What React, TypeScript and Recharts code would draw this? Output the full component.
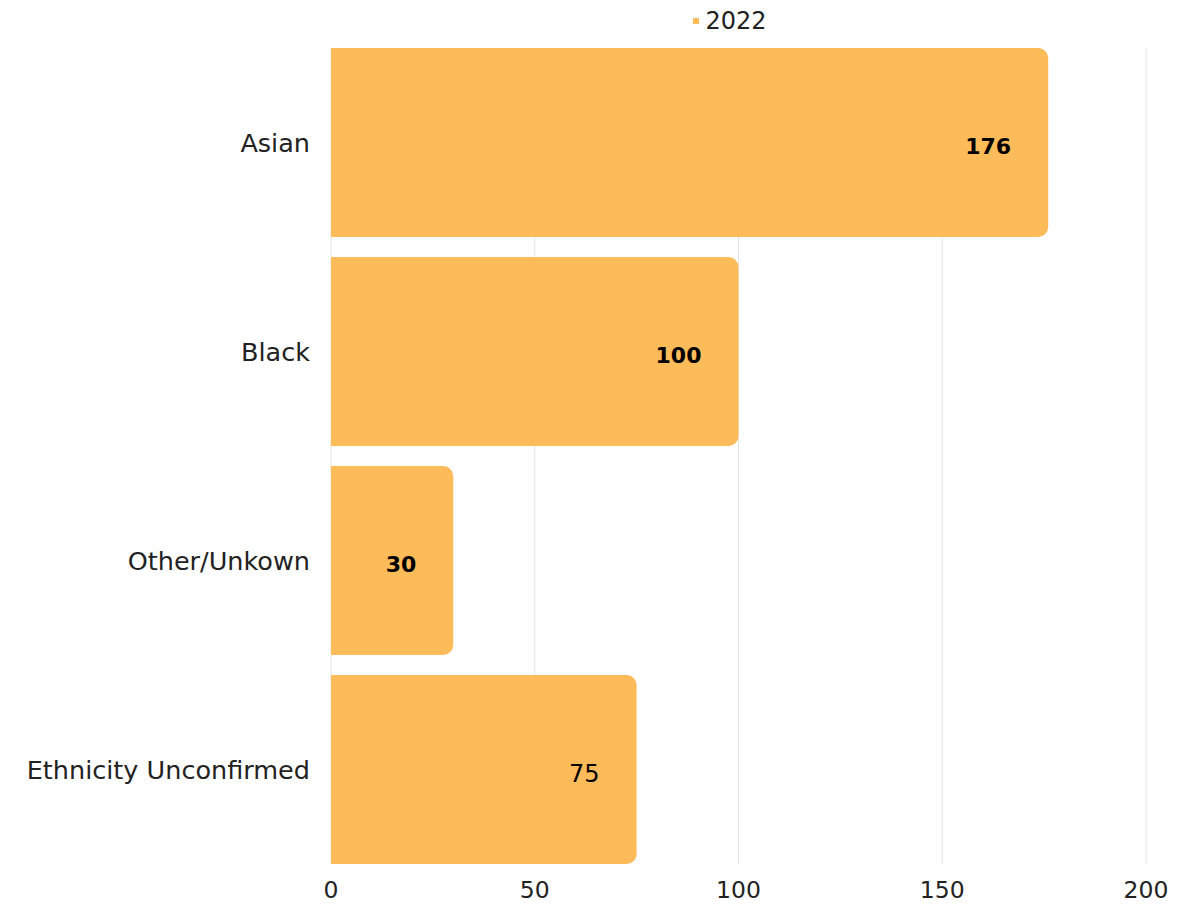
import React from "react";
import { BarChart, Bar, XAxis, YAxis, CartesianGrid, Legend, LabelList } from "recharts";

const categories = ["Asian", "Black", "Other/Unkown", "Ethnicity Unconfirmed"];
const values2022 = [176, 100, 30, 75];
const boldLabels = [true, true, true, false];
const xTicks = [0, 50, 100, 150, 200];

const data = categories.map((c, i) => ({ name: c, v2022: values2022[i] }));

const FONT = "'DejaVu Sans', sans-serif";
const BAR_COLOR = "#FEBB5A";

const renderLabel = (props: any) => {
  const { x, y, width, height, value, index } = props;
  const bold = boldLabels[index];
  return (
    <text
      x={x + width - 37}
      y={y + height / 2 + 4}
      textAnchor="end"
      dominantBaseline="central"
      fontFamily={FONT}
      fontSize={bold ? 22 : 24}
      fontWeight={bold ? 700 : 400}
      fill="#000"
    >
      {value}
    </text>
  );
};

const renderLegend = () => (
  <div style={{ display: "flex", alignItems: "center", justifyContent: "center", fontFamily: FONT, fontSize: 24, color: "#222", lineHeight: "30px" }}>
    <span style={{ display: "inline-block", width: 6, height: 6, background: BAR_COLOR, marginRight: 6 }} />
    <span>2022</span>
  </div>
);

export default function App() {
  return (
    <div style={{ position: "absolute", left: 0, top: 0, background: "#fff" }}>
      <BarChart
        width={1187}
        height={905}
        data={data}
        layout="vertical"
        margin={{ top: 48, right: 41, bottom: 0, left: 0 }}
        barCategoryGap={10}
      >
        <CartesianGrid horizontal={false} vertical={true} stroke="#e4e4e4" />
        <XAxis
          type="number"
          domain={[0, 200]}
          ticks={xTicks}
          tickLine={false}
          axisLine={false}
          height={41}
          tickMargin={11}
          tick={{ fontFamily: FONT, fontSize: 23.5, fill: "#222" }}
        />
        <YAxis
          type="category"
          dataKey="name"
          width={331}
          tickLine={false}
          axisLine={false}
          tickMargin={15}
          padding={{ top: -10, bottom: -10 }}
          tick={{ fontFamily: FONT, fontSize: 25.5, fill: "#222" }}
        />
        <Legend
          verticalAlign="top"
          content={renderLegend}
          wrapperStyle={{ top: 6, left: 655, width: 150, height: 0, overflow: "visible" }}
        />
        <Bar dataKey="v2022" name="2022" fill={BAR_COLOR} radius={[0, 10, 10, 0]} isAnimationActive={false}>
          <LabelList dataKey="v2022" content={renderLabel} />
        </Bar>
      </BarChart>
    </div>
  );
}
